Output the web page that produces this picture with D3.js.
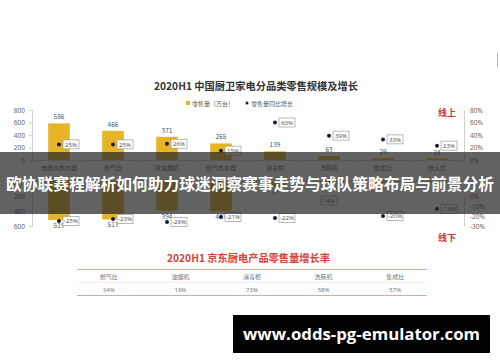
<!DOCTYPE html>
<html><head><meta charset="utf-8">
<script src="https://cdn.jsdelivr.net/npm/d3@7"></script>
<style>
html,body{margin:0;padding:0;background:#fff;}
svg{display:block;font-family:"Noto Sans CJK SC","Noto Sans",sans-serif;}
</style></head>
<body>
<svg id="chart" width="500" height="362"></svg>
<script>
const categories = ['电储水热水器','燃气灶','吸油烟机','燃气热水器','消毒柜','洗碗机','集成灶','嵌入式'];
const onlineVolume = [586,466,371,265,139,63,29,24];
const onlineGrowth = [25,25,26,15,60,39,33,23];
const offlineVolume = [519,513,394,403,77,40,20,18];
const offlineGrowth = [-25,-23,-26,-21,-22,14,-20,-13];
const volTicksTop = [0,200,400,600,800];
const volTicksBottom = [200,400,600];
const pctTicksTop = [0,20,40,60,80];
const pctTicksBottom = [0,-10,-20,-30];
const jdCategories = ['燃气灶','油烟机','消毒柜','洗碗机','集成灶'];
const jdGrowth = [34,16,73,58,57];
const titleMain = '2020H1 中国厨卫家电分品类零售规模及增长';
const titleJd = '2020H1 京东厨电产品零售量增长率';
const legendLabels = ['零售量（万台）','零售量同比增长'];
const bannerText = '欧协联赛程解析如何助力球迷洞察赛事走势与球队策略布局与前景分析';
const watermark = 'www.odds-pg-emulator.com';

const svg = d3.select('#chart');
const barColor = '#E7B425';
const dotColor = '#1b1b38';
const axisColor = '#cfcfcf';
const labelColor = '#666';

const x = d3.scaleBand().domain(categories).range([32,464]).paddingInner(0.6).paddingOuter(0.3);
const yTop = d3.scaleLinear().domain([0,800]).range([160,110]);
const yBot = d3.scaleLinear().domain([0,600]).range([181,226]);
const pTop = d3.scaleLinear().domain([0,80]).range([160,110]);
const pBot = d3.scaleLinear().domain([0,-30]).range([196,226]);
const cx = c => x(c) + x.bandwidth()/2;

// faint edge mark top right
svg.append('line').attr('x1',497.5).attr('x2',497.5).attr('y1',53).attr('y2',67).attr('stroke','#bbb');

// title
svg.append('text').attr('x',256).attr('y',90).attr('text-anchor','middle')
  .attr('font-size',10.5).attr('font-weight','bold').attr('fill','#333')
  .attr('textLength',204).attr('lengthAdjust','spacingAndGlyphs').text(titleMain);

// legend
svg.append('rect').attr('x',186).attr('y',101).attr('width',4).attr('height',4).attr('fill',barColor);
svg.append('text').attr('x',192).attr('y',105.5).attr('font-size',6).attr('fill','#555').text(legendLabels[0]);
svg.append('circle').attr('cx',247).attr('cy',103).attr('r',1.5).attr('fill',dotColor);
svg.append('text').attr('x',251).attr('y',105.5).attr('font-size',6).attr('fill','#555').text(legendLabels[1]);

function styleAxis(g){
  g.select('.domain').attr('stroke',axisColor);
  g.selectAll('.tick line').attr('stroke',axisColor);
  g.selectAll('.tick text').attr('fill',labelColor).attr('font-size',6.5).attr('font-family','"Noto Sans","Noto Sans CJK SC",sans-serif');
}
// left axes
svg.append('g').attr('transform','translate(32,0)')
  .call(d3.axisLeft(yTop).tickValues(volTicksTop).tickSize(3).tickPadding(4)).call(styleAxis);
svg.append('g').attr('transform','translate(32,0)')
  .call(d3.axisLeft(yBot).tickValues(volTicksBottom).tickSize(3).tickPadding(4)).call(styleAxis);
// right axes
svg.append('g').attr('transform','translate(464,0)')
  .call(d3.axisRight(pTop).tickValues(pctTicksTop).tickFormat(d=>d+'%').tickSize(0).tickPadding(6)).call(styleAxis);
svg.append('g').attr('transform','translate(464,0)')
  .call(d3.axisRight(pBot).tickValues(pctTicksBottom).tickFormat(d=>d+'%').tickSize(0).tickPadding(6)).call(styleAxis);

// category axes
svg.append('g').attr('transform','translate(0,160)')
  .call(d3.axisBottom(x).tickSize(0).tickPadding(6)).call(styleAxis)
  .selectAll('.tick text').attr('font-size',6).attr('font-family','"Noto Sans CJK SC",sans-serif');
svg.append('g').attr('transform','translate(0,181)')
  .call(d3.axisTop(x).tickSize(0).tickFormat('')).call(styleAxis);
const seps = categories.map(c => x(c) - (x.step()-x.bandwidth())/2).concat([x.range()[1]]);
svg.append('g').selectAll('line').data(seps).join('line')
  .attr('x1',d=>d).attr('x2',d=>d).attr('y1',160).attr('y2',163).attr('stroke',axisColor);

// online bars
svg.append('g').selectAll('rect').data(categories).join('rect')
  .attr('x',c=>x(c)).attr('width',x.bandwidth())
  .attr('y',(c,i)=>yTop(onlineVolume[i])).attr('height',(c,i)=>yTop(0)-yTop(onlineVolume[i]))
  .attr('fill',barColor);
svg.append('g').selectAll('text').data(categories).join('text')
  .attr('x',c=>cx(c)).attr('y',(c,i)=>yTop(onlineVolume[i])-4)
  .attr('text-anchor','middle').attr('font-size',6.5).attr('fill','#555')
  .text((c,i)=>onlineVolume[i]);

// offline bars
svg.append('g').selectAll('rect').data(categories).join('rect')
  .attr('x',c=>x(c)).attr('width',x.bandwidth())
  .attr('y',yBot(0)).attr('height',(c,i)=>yBot(offlineVolume[i])-yBot(0))
  .attr('fill',barColor);
// value labels that are not hidden beneath the banner in the reference
svg.append('g').selectAll('text').data(categories.filter((c,i)=>offlineVolume[i]>50)).join('text')
  .attr('x',c=>cx(c)).attr('y',c=>yBot(offlineVolume[categories.indexOf(c)])+8)
  .attr('text-anchor','middle').attr('font-size',6.5).attr('fill','#555')
  .text(c=>offlineVolume[categories.indexOf(c)]);

// growth dots and labels
function growthLayer(vals, scale){
  const g = svg.append('g');
  categories.forEach((c,i)=>{
    const v = vals[i];
    const px = cx(c), py = scale(v);
    g.append('circle').attr('cx',px).attr('cy',py).attr('r',2).attr('fill',dotColor);
    const below = scale === pBot && v > 0;
    const bx = below ? px-8 : px+4;
    const by = below ? py+14 : py-4.5;
    g.append('rect').attr('x',bx).attr('y',by).attr('width',16).attr('height',9)
      .attr('fill','#fff').attr('stroke','#9a9a9a').attr('stroke-width',0.7);
    g.append('text').attr('x',bx+8).attr('y',by+6.8).attr('text-anchor','middle')
      .attr('font-size',6).attr('fill','#555').attr('font-family','"Noto Sans",sans-serif').text(v+'%');
  });
}
growthLayer(onlineGrowth, pTop);
growthLayer(offlineGrowth, pBot);

// 线上 / 线下
svg.append('text').attr('x',447).attr('y',116).attr('text-anchor','middle').attr('font-size',9)
  .attr('font-weight','bold').attr('fill','#d42f2a').text('线上');
svg.append('text').attr('x',447).attr('y',241).attr('text-anchor','middle').attr('font-size',9)
  .attr('font-weight','bold').attr('fill','#d42f2a').text('线下');

// JD table
svg.append('text').attr('x',248.5).attr('y',262).attr('text-anchor','middle').attr('font-size',10.5)
  .attr('font-weight','bold').attr('fill','#d9413b')
  .attr('textLength',163).attr('lengthAdjust','spacingAndGlyphs').text(titleJd);
const tx = d3.scaleBand().domain(jdCategories).range([73,431]);
svg.append('line').attr('x1',77).attr('x2',427).attr('y1',269.5).attr('y2',269.5).attr('stroke','#e9a597').attr('stroke-width',1);
svg.append('line').attr('x1',77).attr('x2',427).attr('y1',282.5).attr('y2',282.5).attr('stroke','#f3e0dc').attr('stroke-width',0.5);
svg.append('line').attr('x1',77).attr('x2',427).attr('y1',295.5).attr('y2',295.5).attr('stroke','#e9a597').attr('stroke-width',1);
svg.append('g').selectAll('text').data(jdCategories).join('text')
  .attr('x',c=>tx(c)+tx.bandwidth()/2).attr('y',279).attr('text-anchor','middle')
  .attr('font-size',6).attr('fill','#777').text(c=>c);
svg.append('g').selectAll('text').data(jdCategories).join('text')
  .attr('x',c=>tx(c)+tx.bandwidth()/2).attr('y',291.5).attr('text-anchor','middle')
  .attr('font-size',6).attr('fill','#777').attr('font-family','"Noto Sans",sans-serif')
  .text((c,i)=>jdGrowth[i]+'%');

// banner overlay
svg.append('rect').attr('x',0).attr('y',152).attr('width',500).attr('height',62).attr('fill','rgba(38,38,38,0.72)');
svg.append('text').attr('x',250).attr('y',190).attr('text-anchor','middle').attr('font-size',16)
  .attr('font-weight','bold').attr('fill','#fff')
  .attr('textLength',488).attr('lengthAdjust','spacingAndGlyphs').text(bannerText);

// watermark
svg.append('rect').attr('x',233).attr('y',315).attr('width',257).attr('height',38).attr('fill','#000');
svg.append('text').attr('x',361.5).attr('y',339.5).attr('text-anchor','middle').attr('font-size',16)
  .attr('font-weight','bold').attr('fill','#fff').attr('font-family','"Open Sans","DejaVu Sans",sans-serif')
  .attr('textLength',237).attr('lengthAdjust','spacingAndGlyphs').text(watermark);
</script>
</body></html>
